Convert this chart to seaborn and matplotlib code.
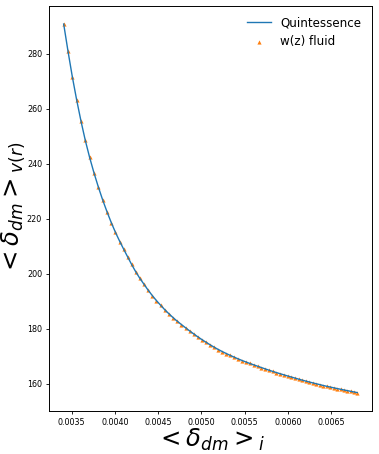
import matplotlib
matplotlib.use('Agg')
import matplotlib.pyplot as plt
import seaborn as sns

# <delta_dm>_i values
delta_i = [
    0.003407, 0.003457, 0.003507, 0.003557, 0.003607, 0.003656, 0.003706,
    0.003757, 0.003807, 0.003857, 0.003907, 0.003957, 0.004006, 0.004056,
    0.004101, 0.004147, 0.004192,
    0.004240, 0.004288, 0.004337, 0.004384, 0.004433, 0.004480, 0.004529,
    0.004576, 0.004625, 0.004673, 0.004721, 0.004769, 0.004818,
    0.004866, 0.004914, 0.004961, 0.005009, 0.005056, 0.005103, 0.005149,
    0.005196, 0.005242, 0.005288, 0.005334, 0.005380, 0.005425, 0.005470,
    0.005515, 0.005560, 0.005604, 0.005649, 0.005693, 0.005737, 0.005780,
    0.005824, 0.005867, 0.005910, 0.005953, 0.005995, 0.006038, 0.006080,
    0.006122, 0.006163, 0.006205, 0.006246, 0.006287, 0.006328, 0.006369,
    0.006409, 0.006449, 0.006489, 0.006529, 0.006568, 0.006608, 0.006647,
    0.006686, 0.006724, 0.006763, 0.006801,
]

# <delta_dm>_v(r) for the quintessence model
delta_v_quint = [
    290.8, 280.9, 271.6, 263.2, 255.5, 248.6, 242.4,
    236.7, 231.6, 226.9, 222.6, 218.6, 215.0, 211.7,
    208.9, 206.1, 203.4,
    200.7, 198.3, 196.1, 194.0, 192.0, 190.2, 188.5,
    186.9, 185.4, 184.0, 182.7, 181.5, 180.3,
    179.14, 178.04, 176.98, 175.97, 175.02, 174.10, 173.24,
    172.42, 171.67, 170.96, 170.28, 169.64, 169.02, 168.44,
    167.89, 167.36, 166.86, 166.36, 165.87, 165.39, 164.93,
    164.48, 164.05, 163.63, 163.23, 162.83, 162.44, 162.06,
    161.68, 161.32, 160.97, 160.63, 160.30, 159.98, 159.67,
    159.35, 159.06, 158.79, 158.51, 158.25, 157.99, 157.74,
    157.49, 157.25, 157.01, 156.78,
]

# w(z) fluid gives the same values on this scale
delta_v_wz = list(delta_v_quint)

plt.rcParams['font.family'] = ['DejaVu Sans']

fig = plt.figure(figsize=(3.79, 4.54), dpi=100)
ax = fig.add_axes([0.1293, 0.0947, 0.852, 0.893])

sns.lineplot(x=delta_i, y=delta_v_quint, ax=ax, color='C0', linewidth=1.0,
             label='Quintessence')
sns.scatterplot(x=delta_i, y=delta_v_wz, ax=ax, color='C1', marker='^', s=9,
                linewidth=0, label='w(z) fluid')

ax.set_xlabel(r'$<\delta_{dm}>_i$', fontsize=17.5, labelpad=0)
ax.set_ylabel(r'$<\delta_{dm}>_{v(r)}$', fontsize=17.5, labelpad=0)
ax.tick_params(labelsize=5.8, length=2.5, width=0.6, pad=2.5)
for s in ax.spines.values():
    s.set_linewidth(0.7)

ax.legend(loc='upper right', frameon=False, fontsize=8.6)

fig.savefig('out.png', dpi=100)
